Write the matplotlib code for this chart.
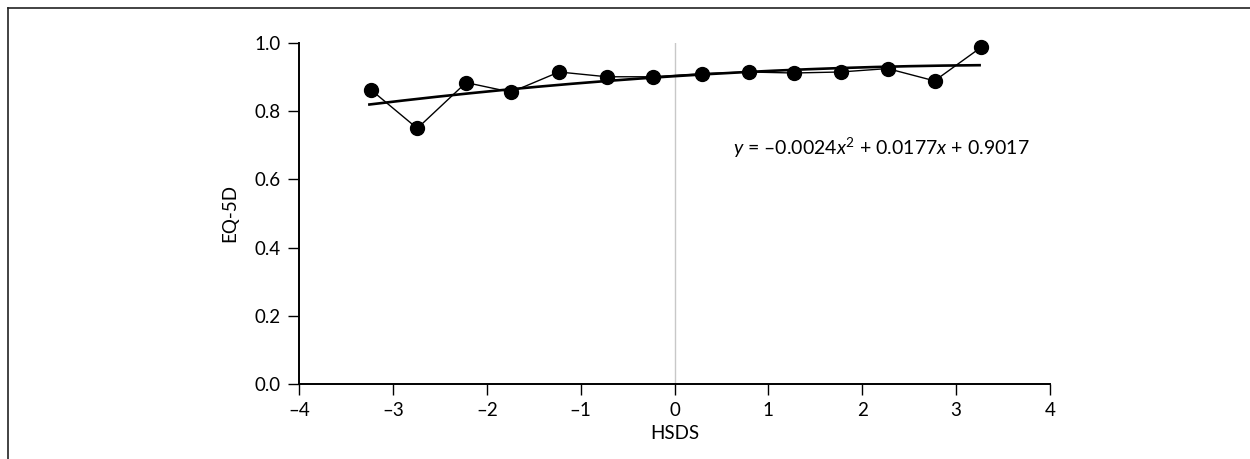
import numpy as np
import matplotlib
matplotlib.use("Agg")
import matplotlib.pyplot as plt
from matplotlib.lines import Line2D

plt.rcParams['font.family'] = ['Lato', 'DejaVu Sans']
plt.rcParams['mathtext.fontset'] = 'custom'
plt.rcParams['mathtext.rm'] = 'Lato'
plt.rcParams['mathtext.it'] = 'Lato:italic'

# data
hsds = [-3.23, -2.74, -2.22, -1.74, -1.23, -0.72, -0.23,
        0.29, 0.79, 1.27, 1.77, 2.27, 2.77, 3.27]
eq5d = [0.861, 0.749, 0.883, 0.855, 0.914, 0.900, 0.900,
        0.909, 0.914, 0.911, 0.914, 0.924, 0.888, 0.987]
fit_coef = [-0.0024, 0.0177, 0.9017]
fit_range = [-3.25, 3.25]
x_ticks = [-4, -3, -2, -1, 0, 1, 2, 3, 4]
x_labels = ['–4', '–3', '–2', '–1', '0', '1', '2', '3', '4']
y_ticks = [0.0, 0.2, 0.4, 0.6, 0.8, 1.0]

fig = plt.figure(figsize=(12.5, 4.59), dpi=100)
ax = fig.add_axes([0.2392, 0.1627, 0.6008, 0.7445])

ax.axvline(0, ymin=0, ymax=1, color='#c8c8c8', lw=1.0, zorder=1)
ax.plot(hsds, eq5d, color='black', lw=1.0, marker='o', ms=10,
        mfc='black', mec='black', zorder=3, clip_on=False)

xf = np.linspace(fit_range[0], fit_range[1], 200)
ax.plot(xf, np.polyval(fit_coef, xf), color='black', lw=1.9, zorder=4)

ax.text(0.62, 0.672, r'$y$ = –0.0024$x^{2}$ + 0.0177$x$ + 0.9017',
        fontsize=14, ha='left', va='baseline')

ax.set_xlim(-4, 4)
ax.set_ylim(0, 1.0)
ax.set_xticks(x_ticks)
ax.set_xticklabels(x_labels)
ax.set_yticks(y_ticks)
ax.set_yticklabels([f'{v:.1f}' for v in y_ticks])
ax.tick_params(direction='out', length=8, width=1.0, labelsize=13.5,
               colors='black', pad=5)
for s in ['top', 'right']:
    ax.spines[s].set_visible(False)
for s in ['left', 'bottom']:
    ax.spines[s].set_linewidth(1.4)

ax.set_xlabel('HSDS', fontsize=13.5, labelpad=4)
ax.set_ylabel('EQ-5D', fontsize=13.5, labelpad=12)

# frame around the figure (top and left edges visible)
fig.add_artist(Line2D([8 / 1250, 1.0], [1 - 8 / 459, 1 - 8 / 459],
                      transform=fig.transFigure, color='#222222', lw=1.2))
fig.add_artist(Line2D([8 / 1250, 8 / 1250], [0.0, 1 - 8 / 459],
                      transform=fig.transFigure, color='#222222', lw=1.2))

fig.savefig('out.png', dpi=100)
